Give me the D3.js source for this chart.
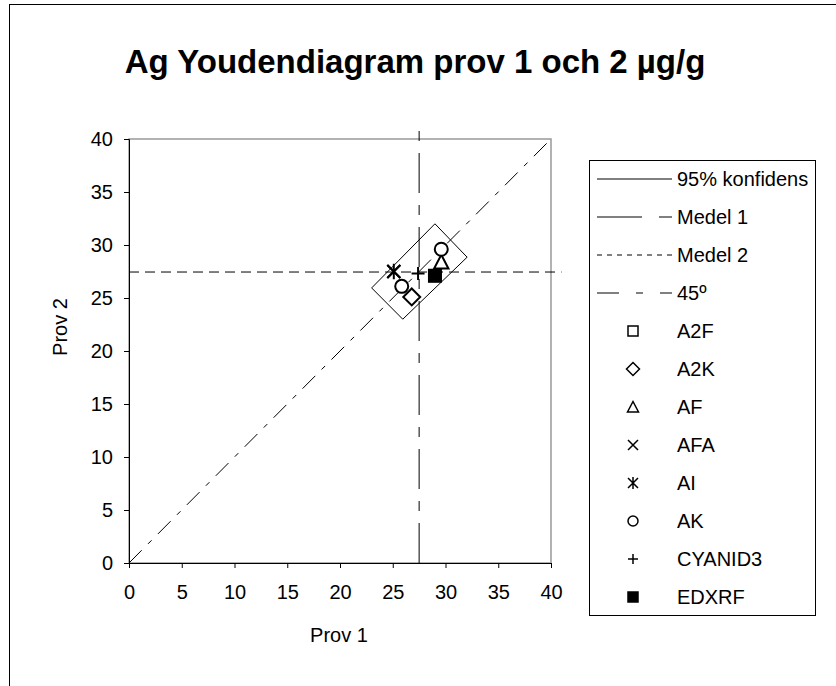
<!DOCTYPE html>
<html>
<head>
<meta charset="utf-8">
<script src="https://cdn.jsdelivr.net/npm/d3@7"></script>
<style>
  body { margin: 0; background: #fff; }
  text { font-family: "Liberation Sans", Arial, sans-serif; fill: #000; }
</style>
</head>
<body>
<svg id="chart" width="836" height="686"></svg>
<script>
// series: lab results (prov 1, prov 2)
const series = [
  { name: "A2F", symbol: "square", points: [[29.0, 27.1]] },
  { name: "A2K", symbol: "diamond", points: [[26.8, 25.1]] },
  { name: "AF", symbol: "triangle", points: [[29.6, 28.4]] },
  { name: "AFA", symbol: "x", points: [[25.1, 27.5]] },
  { name: "AI", symbol: "asterisk", points: [[25.1, 27.5]] },
  { name: "AK", symbol: "circle", points: [[29.6, 29.6], [25.85, 26.1]] },
  { name: "CYANID3", symbol: "plus", points: [[27.4, 27.3]] },
  { name: "EDXRF", symbol: "filledSquare", points: [[29.0, 27.1]] }
];

const konfidens = [[23.0, 25.95], [29.0, 32.0], [32.05, 28.85], [25.95, 23.0], [23.0, 25.95]];
const medel1 = [[27.5, 0], [27.5, 40.9]];
const medel2 = [[0, 27.45], [41, 27.45]];
const diagonal = [[0, 0], [40, 40]];

const ticks = [0, 5, 10, 15, 20, 25, 30, 35, 40];
const lineLegend = ["95% konfidens", "Medel 1", "Medel 2", "45º"];

const svg = d3.select("#chart");

// chart border (runs off the page at right/bottom)
svg.append("rect")
  .attr("x", 9.5).attr("y", 4.5)
  .attr("width", 900).attr("height", 800)
  .attr("fill", "none").attr("stroke", "#000");

svg.append("text")
  .attr("x", 415).attr("y", 73)
  .attr("text-anchor", "middle")
  .attr("font-size", 33).attr("font-weight", "bold")
  .text("Ag Youdendiagram prov 1 och 2 µg/g");

const x = d3.scaleLinear().domain([0, 40]).range([129, 551]);
const y = d3.scaleLinear().domain([0, 40]).range([563, 139]);

// plot area border
svg.append("rect")
  .attr("x", x(0)).attr("y", y(40))
  .attr("width", x(40) - x(0)).attr("height", y(0) - y(40))
  .attr("fill", "none").attr("stroke", "#999").attr("stroke-width", 1.5);

const xAxis = svg.append("g")
  .attr("transform", `translate(0,${y(0)})`)
  .call(d3.axisBottom(x).tickValues(ticks).tickSize(5).tickPadding(17));
const yAxis = svg.append("g")
  .attr("transform", `translate(${x(0)},0)`)
  .call(d3.axisLeft(y).tickValues(ticks).tickSize(5).tickPadding(11));
[xAxis, yAxis].forEach(g => {
  g.select(".domain").attr("stroke", "#000");
  g.selectAll("text").attr("font-size", 20)
    .attr("font-family", "Liberation Sans, Arial, sans-serif");
});

svg.append("text")
  .attr("x", 339).attr("y", 642)
  .attr("text-anchor", "middle").attr("font-size", 20)
  .text("Prov 1");
svg.append("text")
  .attr("transform", "translate(67,327) rotate(-90)")
  .attr("text-anchor", "middle").attr("font-size", 20)
  .text("Prov 2");

const line = d3.line().x(d => x(d[0])).y(d => y(d[1]));
const lineStyles = [
  { data: konfidens, dash: null },
  { data: medel1, dash: "40,12,10,12" },
  { data: medel2, dash: "10,6" },
  { data: diagonal, dash: "18,9,5,9" }
];
const legendDash = [null, "45,17,13,0", "5,5", "22,17,7,17"];

lineStyles.forEach(s => {
  svg.append("path")
    .datum(s.data)
    .attr("d", line)
    .attr("fill", "none")
    .attr("stroke", "#000")
    .attr("stroke-width", 1)
    .attr("stroke-dasharray", s.dash);
});

// marker shapes
function drawMarker(g, symbol, size) {
  const r = size / 2;
  const s = g.append("g");
  if (symbol === "square") {
    s.append("rect").attr("x", -r).attr("y", -r).attr("width", size).attr("height", size)
      .attr("fill", "#fff").attr("stroke", "#000").attr("stroke-width", 2);
  } else if (symbol === "filledSquare") {
    s.append("rect").attr("x", -r).attr("y", -r).attr("width", size).attr("height", size)
      .attr("fill", "#000").attr("stroke", "#000").attr("stroke-width", 1);
  } else if (symbol === "diamond") {
    const d = r * 1.3;
    s.append("path").attr("d", `M0,${-d}L${d},0L0,${d}L${-d},0Z`)
      .attr("fill", "#fff").attr("stroke", "#000").attr("stroke-width", 2);
  } else if (symbol === "triangle") {
    s.append("path").attr("d", `M0,${-r * 1.1}L${r * 1.1},${r}L${-r * 1.1},${r}Z`)
      .attr("fill", "#fff").attr("stroke", "#000").attr("stroke-width", 2);
  } else if (symbol === "circle") {
    s.append("circle").attr("r", r)
      .attr("fill", "#fff").attr("stroke", "#000").attr("stroke-width", 2);
  } else if (symbol === "x") {
    s.append("path").attr("d", `M${-r},${-r}L${r},${r}M${r},${-r}L${-r},${r}`)
      .attr("stroke", "#000").attr("stroke-width", 2);
  } else if (symbol === "asterisk") {
    s.append("path").attr("d", `M${-r},${-r}L${r},${r}M${r},${-r}L${-r},${r}M0,${-r * 1.2}L0,${r * 1.2}`)
      .attr("stroke", "#000").attr("stroke-width", 2);
  } else if (symbol === "plus") {
    s.append("path").attr("d", `M${-r},0L${r},0M0,${-r}L0,${r}`)
      .attr("stroke", "#000").attr("stroke-width", 2);
  }
}

series.forEach(sr => {
  sr.points.forEach(p => {
    const g = svg.append("g").attr("transform", `translate(${x(p[0])},${y(p[1])})`);
    drawMarker(g, sr.symbol, sr.symbol === "filledSquare" || sr.symbol === "square" ? 12 : 13);
  });
});

// legend
const legend = svg.append("g");
legend.append("rect")
  .attr("x", 589.5).attr("y", 160.5)
  .attr("width", 226).attr("height", 455)
  .attr("fill", "#fff").attr("stroke", "#000");

const rowY = i => 179 + 38 * i;
lineLegend.forEach((name, i) => {
  legend.append("line")
    .attr("x1", 597).attr("x2", 672)
    .attr("y1", rowY(i)).attr("y2", rowY(i))
    .attr("stroke", "#000")
    .attr("stroke-dasharray", legendDash[i]);
  legend.append("text")
    .attr("x", 677).attr("y", rowY(i) + 7)
    .attr("font-size", 20)
    .text(name);
});
series.forEach((sr, j) => {
  const i = j + lineLegend.length;
  const g = legend.append("g").attr("transform", `translate(633,${rowY(i)})`);
  drawMarker(g, sr.symbol, 10);
  g.selectAll("rect,path,circle").attr("stroke-width", 1.5);
  legend.append("text")
    .attr("x", 677).attr("y", rowY(i) + 7)
    .attr("font-size", 20)
    .text(sr.name);
});
</script>
</body>
</html>
